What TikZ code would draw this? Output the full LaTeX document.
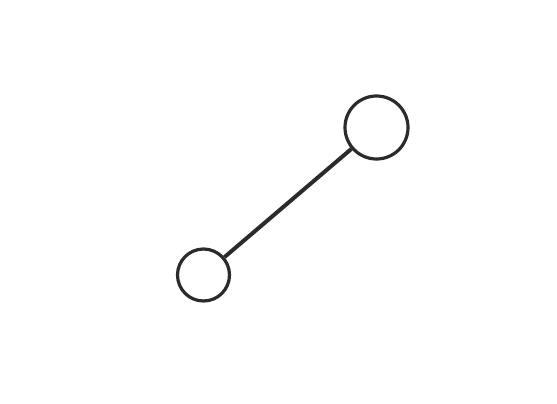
\documentclass[tikz,border=0pt]{standalone}
\usetikzlibrary{calc}
\definecolor{ink}{HTML}{2B2B2B}
\tikzset{
  ball/.style={circle, draw=ink, line width=3.2pt, fill=white, inner sep=0pt},
  rod/.style={draw=ink, line width=4pt},
  fillet/.style={draw=ink, line width=6.5pt, line cap=round}
}
\begin{document}
\begin{tikzpicture}[x=1pt,y=-1pt]
\useasboundingbox (0,0) rectangle (557,404);
\coordinate (sc) at (203.5,275);
\coordinate (lc) at (376.5,127.5);
\node[ball, minimum size=52pt] (small) at (sc) {};
\node[ball, minimum size=63pt] (large) at (lc) {};
\draw[rod] (small) -- (large);
\draw[fillet] ($(sc)!28.5!(lc)$) -- ($(sc)!29.5!(lc)$);
\draw[fillet] ($(lc)!34!(sc)$) -- ($(lc)!35!(sc)$);
\end{tikzpicture}
\end{document}
